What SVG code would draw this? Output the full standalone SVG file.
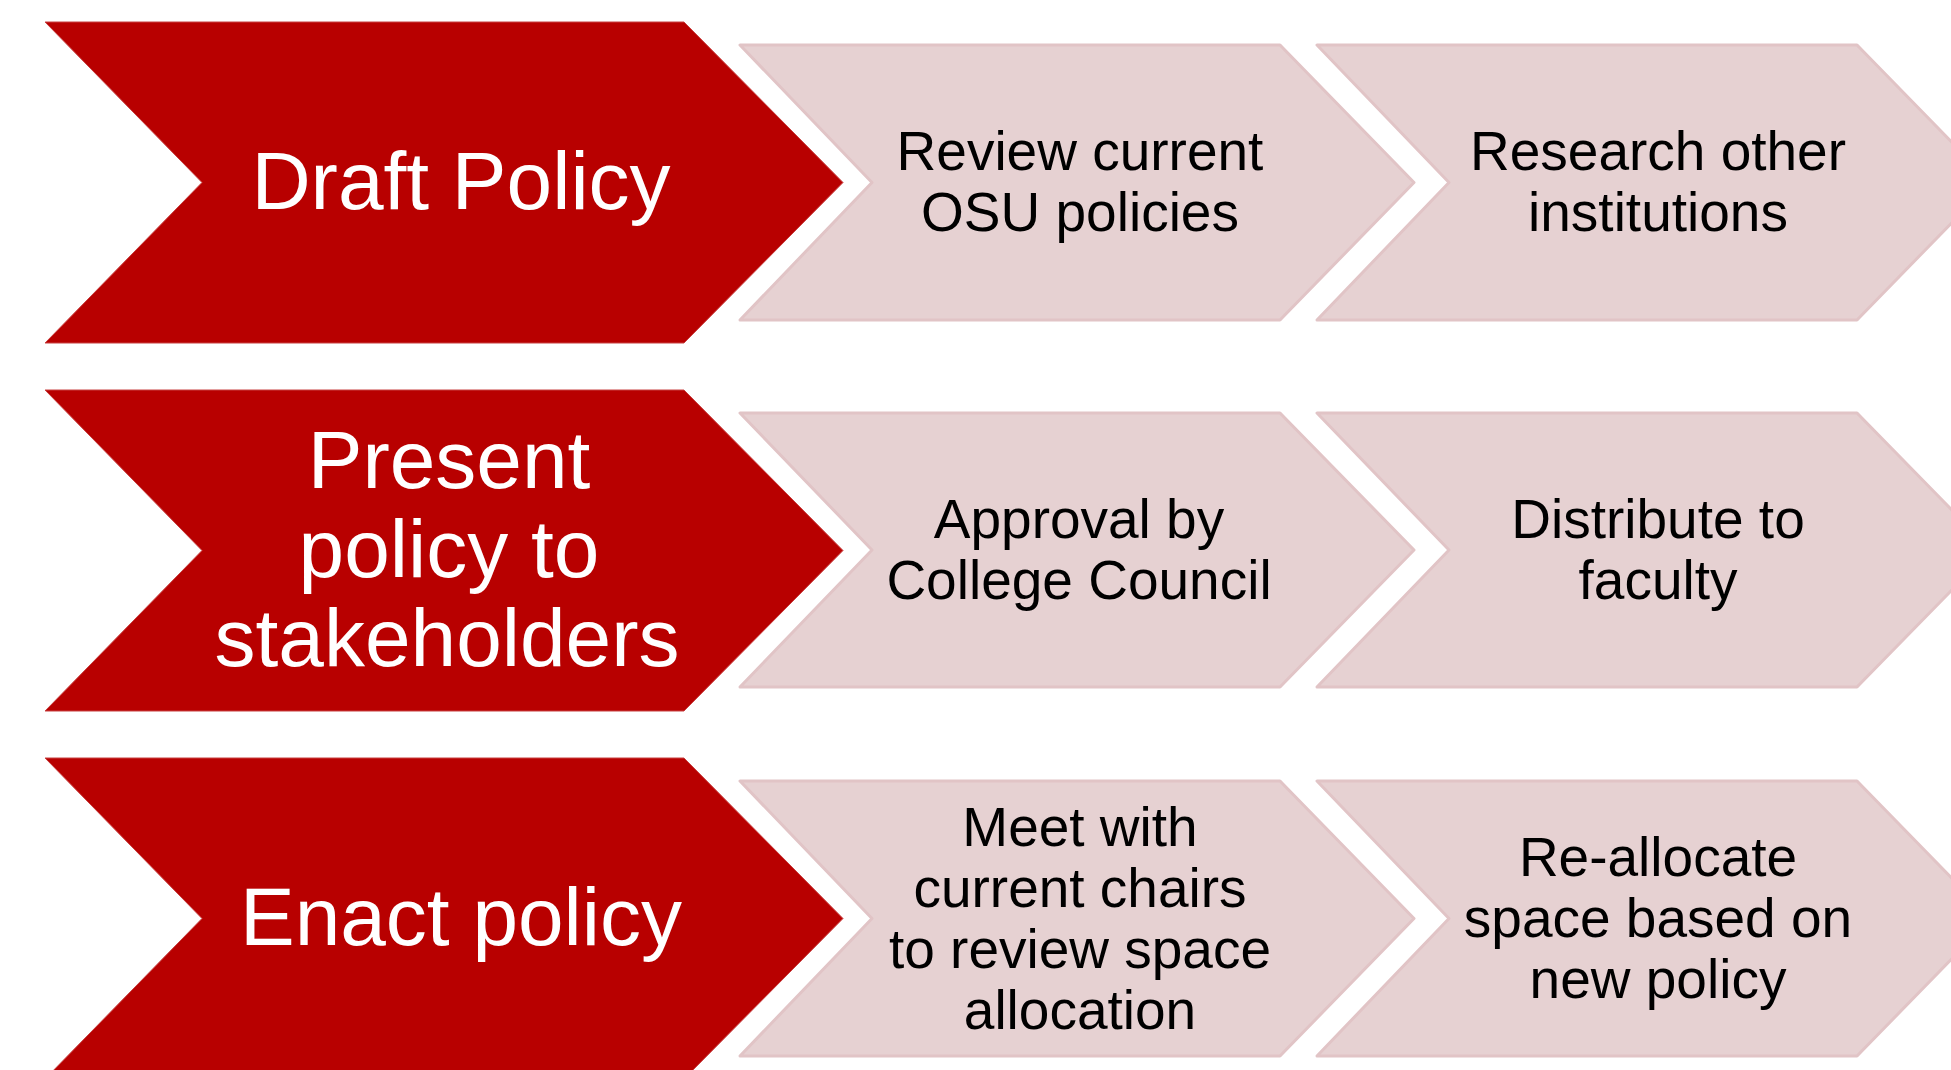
<svg xmlns="http://www.w3.org/2000/svg" width="1951" height="1070" viewBox="0 0 1951 1070">
<style>
.red{fill:#B80000;stroke:#C84040;stroke-width:1}
.pink{fill:#E6D1D2;stroke:#E1C4C6;stroke-width:3;stroke-linejoin:round}
.rt{font-family:"Liberation Sans",Arial,sans-serif;font-size:82px;fill:#FFFFFF;text-anchor:middle}
.pt{font-family:"Liberation Sans",Arial,sans-serif;font-size:55px;fill:#000000;text-anchor:middle}
</style>
<rect width="1951" height="1070" fill="#FFFFFF"/>
<g id="row1">
  <g id="draft-policy">
    <polygon class="red" points="45,22 684,22 843,182.5 684,343 45,343 202,182.5"/>
    <text class="rt" x="461" y="209">Draft Policy</text>
  </g>
  <g id="review-current">
    <polygon class="pink" points="740,45 1280,45 1414,182.5 1280,320 740,320 872,182.5"/>
    <text class="pt" x="1080" y="170">Review current</text>
    <text class="pt" x="1080" y="231">OSU policies</text>
  </g>
  <g id="research-other">
    <polygon class="pink" points="1317,45 1857,45 1991,182.5 1857,320 1317,320 1449,182.5"/>
    <text class="pt" x="1658" y="170">Research other</text>
    <text class="pt" x="1658" y="231">institutions</text>
  </g>
</g>
<g id="row2">
  <g id="present-policy">
    <polygon class="red" points="45,390 684,390 843,550.5 684,711 45,711 202,550.5"/>
    <text class="rt" x="449" y="488">Present</text>
    <text class="rt" x="449" y="577">policy to</text>
    <text class="rt" x="447" y="666">stakeholders</text>
  </g>
  <g id="approval">
    <polygon class="pink" points="740,413 1280,413 1414,550 1280,687 740,687 872,550"/>
    <text class="pt" x="1079" y="537.5">Approval by</text>
    <text class="pt" x="1079" y="598.5">College Council</text>
  </g>
  <g id="distribute">
    <polygon class="pink" points="1317,413 1857,413 1991,550 1857,687 1317,687 1449,550"/>
    <text class="pt" x="1658" y="537.5">Distribute to</text>
    <text class="pt" x="1658" y="598.5">faculty</text>
  </g>
</g>
<g id="row3">
  <g id="enact-policy">
    <polygon class="red" points="45,758 684,758 843,918.5 684,1079 45,1079 202,918.5"/>
    <text class="rt" x="461" y="945">Enact policy</text>
  </g>
  <g id="meet-chairs">
    <polygon class="pink" points="740,781 1280,781 1414,918.5 1280,1056 740,1056 872,918.5"/>
    <text class="pt" x="1080" y="845.5">Meet with</text>
    <text class="pt" x="1080" y="906.5">current chairs</text>
    <text class="pt" x="1080" y="967.5">to review space</text>
    <text class="pt" x="1080" y="1028.5">allocation</text>
  </g>
  <g id="reallocate">
    <polygon class="pink" points="1317,781 1857,781 1991,918.5 1857,1056 1317,1056 1449,918.5"/>
    <text class="pt" x="1658" y="876">Re-allocate</text>
    <text class="pt" x="1658" y="937">space based on</text>
    <text class="pt" x="1658" y="998">new policy</text>
  </g>
</g>
<g id="connectors"/>
</svg>
